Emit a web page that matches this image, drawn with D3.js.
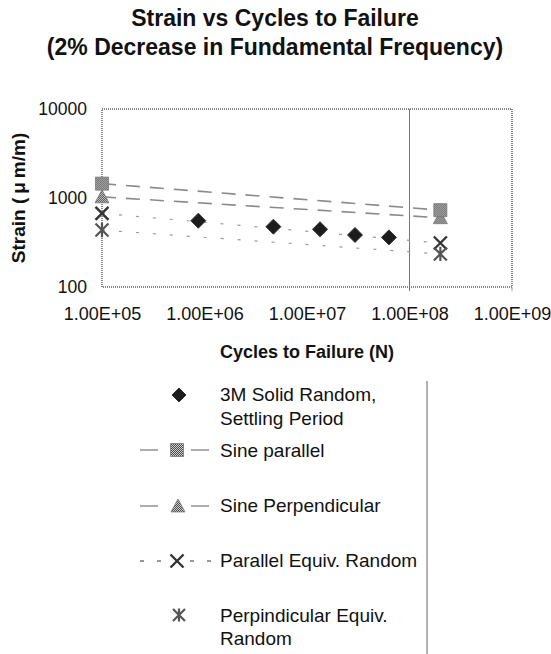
<!DOCTYPE html>
<html>
<head>
<meta charset="utf-8">
<script src="https://cdn.jsdelivr.net/npm/d3@7"></script>
<style>
  body { margin: 0; background: #fff; }
  text { font-family: "Liberation Sans", Arial, sans-serif; fill: #111; }
</style>
</head>
<body>
<script>
// values
var xTicks = [1e5, 1e6, 1e7, 1e8, 1e9];
var yTicks = [100, 1000, 10000];

var solidN = [8.7e5, 4.7e6, 1.34e7, 2.94e7, 6.3e7];
var solidS = [556, 476, 445, 384, 361];

var sineParN = [1e5, 2e8];
var sineParS = [1450, 730];

var sinePerpN = [1e5, 2e8];
var sinePerpS = [1030, 600];

var parEqN = [1e5, 2e8];
var parEqS = [673, 312];

var perpEqN = [1e5, 2e8];
var perpEqS = [436, 235];

var seriesNames = [
    ["3M Solid Random,", "Settling Period"],
    ["Sine parallel"],
    ["Sine Perpendicular"],
    ["Parallel Equiv. Random"],
    ["Perpindicular Equiv.", "Random"]
];

var width = 551;
var height = 654;
var plot = { left: 102, right: 512, top: 109, bottom: 287 };

var svg = d3.select("body").append("svg")
    .attr("width", width)
    .attr("height", height);

// dithered grey fill like the scanned markers
var defs = svg.append("defs");
var pat = defs.append("pattern")
    .attr("id", "dither")
    .attr("width", 2).attr("height", 2)
    .attr("patternUnits", "userSpaceOnUse");
pat.append("rect").attr("width", 2).attr("height", 2).attr("fill", "#cfcfcf");
pat.append("rect").attr("width", 1).attr("height", 1).attr("fill", "#4a4a4a");
pat.append("rect").attr("x", 1).attr("y", 1).attr("width", 1).attr("height", 1).attr("fill", "#4a4a4a");

var xScale = d3.scaleLog()
    .domain([1e5, 1e9])
    .range([plot.left, plot.right]);

var yScale = d3.scaleLog()
    .domain([100, 10000])
    .range([plot.bottom, plot.top]);

var line = d3.line()
    .x(function(d) { return xScale(d[0]); })
    .y(function(d) { return yScale(d[1]); });

function pairs(xs, ys) {
    return xs.map(function(x, i) { return [x, ys[i]]; });
}

// titles
svg.append("text")
    .attr("x", 275).attr("y", 26)
    .attr("text-anchor", "middle")
    .attr("font-size", 23).attr("font-weight", "bold")
    .text("Strain vs Cycles to Failure");
svg.append("text")
    .attr("x", 275).attr("y", 55)
    .attr("text-anchor", "middle")
    .attr("font-size", 23).attr("font-weight", "bold")
    .text("(2% Decrease in Fundamental Frequency)");

// plot frame
svg.append("rect")
    .attr("x", plot.left).attr("y", plot.top)
    .attr("width", plot.right - plot.left)
    .attr("height", plot.bottom - plot.top)
    .attr("fill", "none")
    .attr("stroke", "#888")
    .attr("stroke-width", 2)
    .attr("stroke-dasharray", "1,1");

// vertical line at 1e8
svg.append("line")
    .attr("x1", xScale(1e8)).attr("x2", xScale(1e8))
    .attr("y1", plot.top).attr("y2", plot.bottom + 4)
    .attr("stroke", "#777")
    .attr("stroke-width", 1);
svg.append("line")
    .attr("x1", xScale(1e9)).attr("x2", xScale(1e9))
    .attr("y1", plot.bottom).attr("y2", plot.bottom + 4)
    .attr("stroke", "#999")
    .attr("stroke-width", 1);

// axes
var xAxis = svg.append("g")
    .attr("transform", "translate(0," + plot.bottom + ")")
    .call(d3.axisBottom(xScale)
        .tickValues(xTicks)
        .tickSize(0)
        .tickPadding(20)
        .tickFormat(function(d) {
            var e = Math.round(Math.log10(d));
            return "1.00E+" + String(e).padStart(2, "0");
        }));
xAxis.select(".domain").remove();
xAxis.selectAll("text")
    .attr("font-size", 18)
    .attr("fill", "#111");

var yAxis = svg.append("g")
    .attr("transform", "translate(" + plot.left + ",0)")
    .call(d3.axisLeft(yScale)
        .tickValues(yTicks)
        .tickSize(0)
        .tickPadding(15)
        .tickFormat(d3.format("d")));
yAxis.select(".domain").remove();
yAxis.selectAll("text")
    .attr("font-size", 17.5)
    .attr("fill", "#111");

// axis titles
svg.append("text")
    .attr("x", 307).attr("y", 358)
    .attr("text-anchor", "middle")
    .attr("font-size", 18).attr("font-weight", "bold")
    .text("Cycles to Failure (N)");

var yTitle = svg.append("text")
    .attr("transform", "translate(25,198) rotate(-90)")
    .attr("text-anchor", "middle")
    .attr("font-size", 19).attr("font-weight", "bold");
yTitle.append("tspan").text("Strain (");
yTitle.append("tspan").attr("dx", 4).text("\u03bc");
yTitle.append("tspan").attr("dx", 4).text("m/m)");

// marker shapes
function diamondPath(r) {
    return "M0," + (-r) + "L" + r + ",0L0," + r + "L" + (-r) + ",0Z";
}
function squarePath(r) {
    return "M" + (-r) + "," + (-r) + "H" + r + "V" + r + "H" + (-r) + "Z";
}
function trianglePath(r) {
    return "M0," + (-r) + "L" + r + "," + (r * 0.85) + "L" + (-r) + "," + (r * 0.85) + "Z";
}
function xPath(r) {
    return "M" + (-r) + "," + (-r) + "L" + r + "," + r + "M" + r + "," + (-r) + "L" + (-r) + "," + r;
}
function starPath(r) {
    return xPath(r) + "M0," + (-r * 1.1) + "L0," + (r * 1.1);
}

// series lines
svg.append("path")
    .datum(pairs(perpEqN, perpEqS))
    .attr("d", line)
    .attr("fill", "none")
    .attr("stroke", "#9a9a9a")
    .attr("stroke-width", 1.2)
    .attr("stroke-dasharray", "3,14");

svg.append("path")
    .datum(pairs(parEqN, parEqS))
    .attr("d", line)
    .attr("fill", "none")
    .attr("stroke", "#9a9a9a")
    .attr("stroke-width", 1.2)
    .attr("stroke-dasharray", "3,14");

svg.append("path")
    .datum(pairs(sinePerpN, sinePerpS))
    .attr("d", line)
    .attr("fill", "none")
    .attr("stroke", "#8a8a8a")
    .attr("stroke-width", 1.6)
    .attr("stroke-dasharray", "14,10");

svg.append("path")
    .datum(pairs(sineParN, sineParS))
    .attr("d", line)
    .attr("fill", "none")
    .attr("stroke", "#8a8a8a")
    .attr("stroke-width", 1.6)
    .attr("stroke-dasharray", "14,10");

// series markers
function drawMarkers(xs, ys, pathFn, style) {
    var g = svg.append("g");
    g.selectAll("path")
        .data(pairs(xs, ys))
        .enter().append("path")
        .attr("transform", function(d) {
            return "translate(" + xScale(d[0]) + "," + yScale(d[1]) + ")";
        })
        .attr("d", pathFn)
        .attr("fill", style.fill)
        .attr("stroke", style.stroke)
        .attr("stroke-width", style.sw);
    return g;
}

var solidStyle = { fill: "#1c1c1c", stroke: "#333", sw: 1 };
var squareStyle = { fill: "url(#dither)", stroke: "#777", sw: 0.8 };
var triStyle = { fill: "url(#dither)", stroke: "#777", sw: 0.8 };
var xStyle = { fill: "none", stroke: "#333", sw: 2.4 };
var starStyle = { fill: "none", stroke: "#555", sw: 2.2 };

drawMarkers(solidN, solidS, function() { return diamondPath(7.5); }, solidStyle);
drawMarkers(sinePerpN, sinePerpS, function() { return trianglePath(7); }, triStyle);
drawMarkers(sineParN, sineParS, function() { return squarePath(6.5); }, squareStyle);
drawMarkers(parEqN, parEqS, function() { return xPath(6.5); }, xStyle);
drawMarkers(perpEqN, perpEqS, function() { return starPath(6.5); }, starStyle);

// legend
var legend = svg.append("g");
legend.append("line")
    .attr("x1", 427).attr("x2", 427)
    .attr("y1", 381).attr("y2", 654)
    .attr("stroke", "#666")
    .attr("stroke-width", 1);

var legendRows = [
    { y: 395, base: [401, 425], mx: 179, shape: diamondPath(7), style: solidStyle, segs: [] },
    { y: 450, base: [457], mx: 177, shape: squarePath(6.5), style: squareStyle,
      segs: [[140, 158], [191, 209]], dash: null, stroke: "#8a8a8a" },
    { y: 506, base: [512], mx: 178, shape: trianglePath(7), style: triStyle,
      segs: [[140, 158], [191, 209]], dash: null, stroke: "#8a8a8a" },
    { y: 561, base: [567], mx: 177, shape: xPath(6.5), style: xStyle,
      segs: [[140, 166], [190, 214]], dash: "4,13", stroke: "#777" },
    { y: 615, base: [622, 645], mx: 179, shape: starPath(6), style: starStyle, segs: [] }
];

legendRows.forEach(function(row, i) {
    row.segs.forEach(function(s) {
        legend.append("line")
            .attr("x1", s[0]).attr("x2", s[1])
            .attr("y1", row.y).attr("y2", row.y)
            .attr("stroke", row.stroke)
            .attr("stroke-width", 1.4)
            .attr("stroke-dasharray", row.dash);
    });
    legend.append("path")
        .attr("transform", "translate(" + row.mx + "," + row.y + ")")
        .attr("d", row.shape)
        .attr("fill", row.style.fill)
        .attr("stroke", row.style.stroke)
        .attr("stroke-width", row.style.sw);
    seriesNames[i].forEach(function(t, j) {
        legend.append("text")
            .attr("x", 220).attr("y", row.base[j])
            .attr("font-size", 19)
            .text(t);
    });
});
</script>
</body>
</html>
